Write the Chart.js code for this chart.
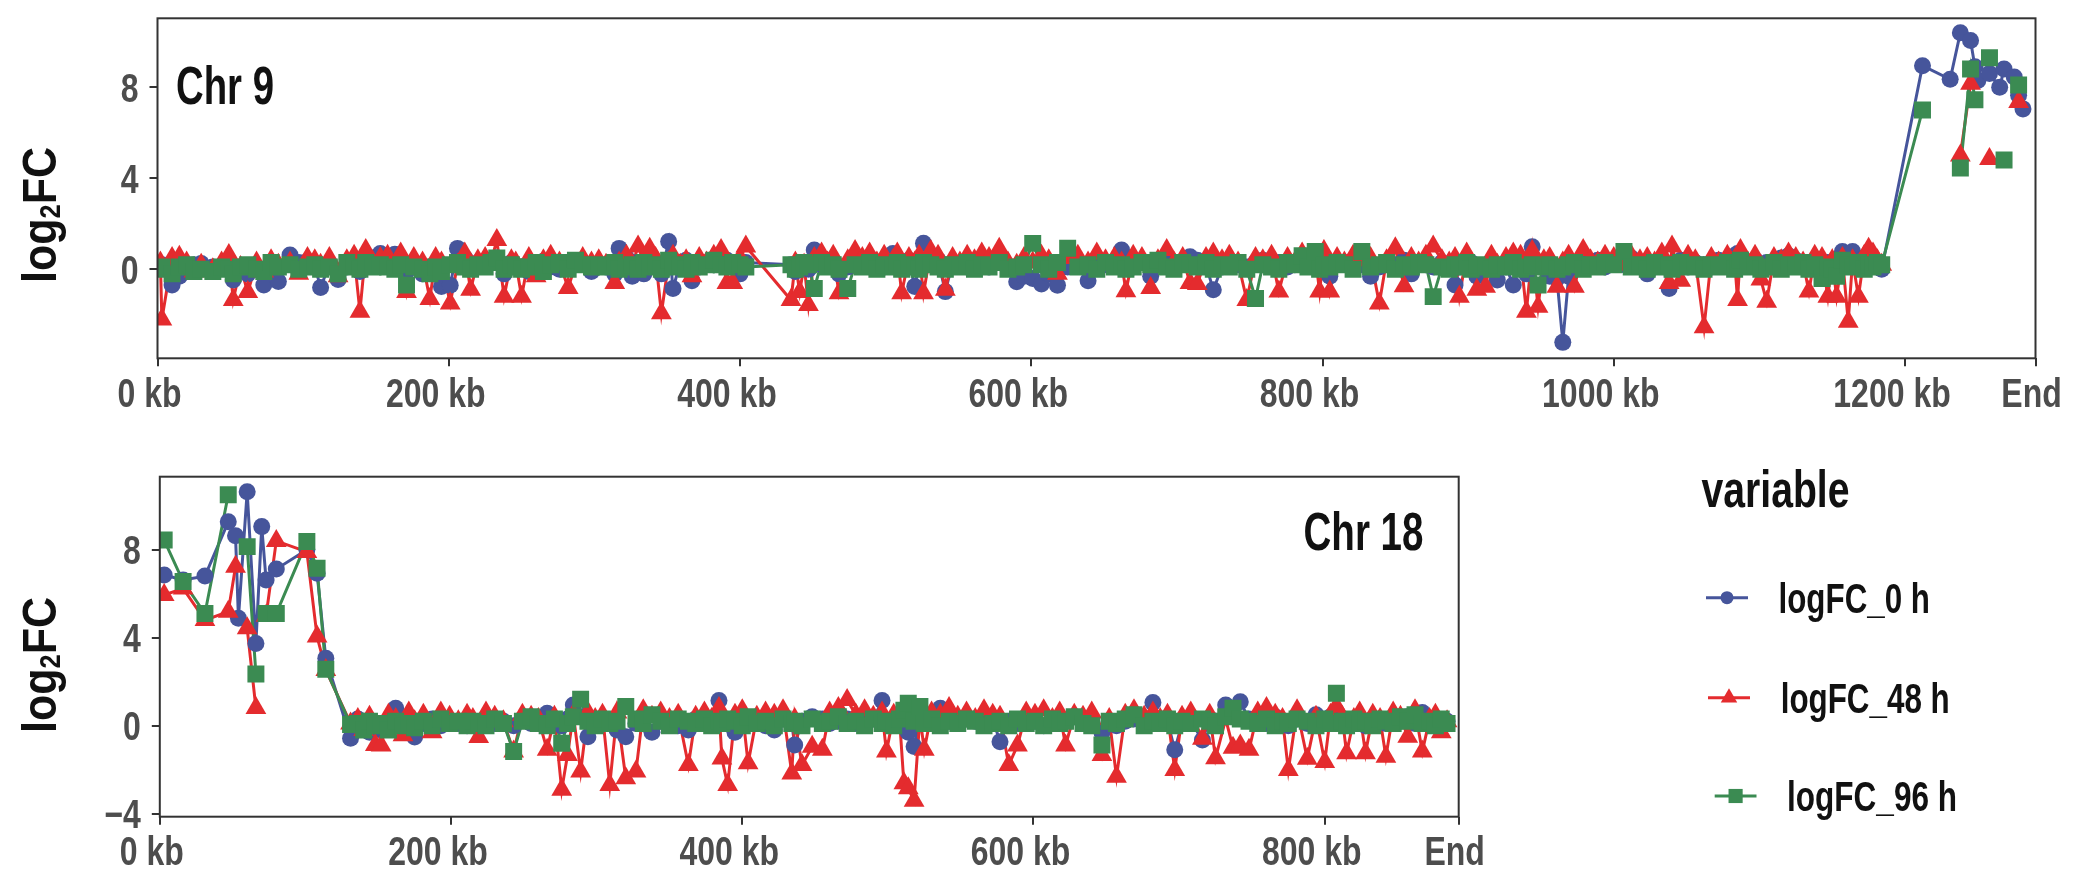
<!DOCTYPE html>
<html>
<head>
<meta charset="utf-8">
<script src="https://cdn.jsdelivr.net/npm/chart.js@4.4.1/dist/chart.umd.min.js"></script>
<style>
  html, body { margin: 0; padding: 0; background: #fff; }
  body { width: 2090px; height: 871px; position: relative; overflow: hidden; }
  canvas { position: absolute; left: 0; }
  #chr9 { top: 0; }
  #chr18 { top: 440px; }
</style>
</head>
<body>
<canvas id="chr9" width="2090" height="420"></canvas>
<canvas id="chr18" width="2090" height="431"></canvas>
<script>
// ---- data: Chr 9 (positions in kb, log2 fold change) ----
const chr9Kb = [
  2, 3, 10, 15, 20, 25, 30, 38, 44, 49,
  52, 57, 62, 68, 73, 78, 83, 91, 97, 103,
  108, 112, 118, 124, 130, 135, 139, 143, 148, 153,
  158, 163, 167, 171, 176, 182, 187, 191, 195, 201,
  206, 211, 215, 220, 225, 229, 233, 238, 243, 246,
  250, 255, 260, 265, 270, 276, 282, 287, 292, 298,
  303, 308, 314, 317, 322, 326, 330, 334, 338, 342,
  346, 351, 354, 359, 363, 367, 372, 377, 382, 387,
  391, 395, 400, 404, 435, 438, 441, 444, 447, 451,
  456, 460, 464, 468, 474, 479, 484, 489, 494, 499,
  505, 508, 511, 516, 520, 523, 526, 531, 536, 541,
  546, 551, 556, 561, 566, 571, 578, 584, 590, 595,
  601, 607, 612, 618, 625, 632, 639, 645, 651, 657,
  662, 665, 670, 676, 682, 687, 693, 698, 704, 709,
  714, 720, 725, 731, 736, 742, 748, 754, 759, 765,
  770, 776, 781, 786, 790, 795, 798, 801, 805, 810,
  815, 821, 827, 833, 839, 844, 850, 856, 861, 866,
  871, 876, 882, 887, 891, 894, 899, 902, 906, 912,
  916, 920, 926, 931, 936, 940, 944, 948, 952, 956,
  961, 965, 969, 973, 979, 984, 989, 994, 1000, 1007,
  1012, 1018, 1023, 1028, 1033, 1038, 1040, 1046, 1051, 1056,
  1062, 1067, 1072, 1078, 1083, 1085, 1087, 1092, 1097, 1101,
  1105, 1110, 1115, 1120, 1125, 1130, 1134, 1138, 1143, 1147,
  1150, 1153, 1157, 1161, 1164, 1168, 1172, 1175, 1178, 1181,
  1184, 1212, 1231, 1238, 1245, 1248, 1250, 1258, 1265, 1268,
  1275, 1278, 1281
];
const chr9Logfc0h = [
  0.1, 0.2, -0.69, -0.3, 0.05, 0.2, 0.26, 0.1, 0.15, 0.3,
  -0.47, 0.1, -0.2, 0.05, -0.69, 0.2, -0.54, 0.63, 0.3, 0.35,
  0.15, -0.8, 0.2, -0.45, 0.1, 0.25, -0.1, 0.3, 0.5, 0.7,
  0.2, 0.66, 0.1, -0.1, 0.3, -0.2, 0.1, 0.05, -0.76, -0.7,
  0.92, 0.5, 0.1, 0.3, 0.2, 0.4, 0.5, -0.2, 0.3, 0.1,
  0.1, -0.1, 0.2, 0.35, 0.1, 0.0, 0.15, 0.2, 0.3, -0.1,
  0.2, 0.1, -0.2, 0.92, 0.5, -0.3, 0.3, -0.2, 0.2, 0.1,
  -0.2, 1.22, -0.84, 0.3, 0.4, -0.5, 0.1, 0.3, 0.2, 0.35,
  0.4, 0.2, -0.2, 0.3, 0.2, -0.1, 0.3, 0.1, 0.0, 0.85,
  0.2, 0.4, 0.3, -0.2, 0.1, 0.3, 0.2, 0.5, 0.3, 0.1,
  0.7, 0.2, 0.1, 0.4, -0.76, 0.2, 1.14, 0.3, 0.4, -0.98,
  0.3, 0.2, 0.1, 0.3, 0.2, 0.1, 0.3, 0.15, -0.55, -0.3,
  -0.4, -0.65, -0.2, -0.7, 0.1, 0.2, -0.5, 0.1, 0.2, 0.3,
  0.85, 0.2, 0.1, 0.3, -0.3, 0.2, 0.3, 0.1, 0.3, 0.55,
  0.4, 0.2, -0.9, 0.1, 0.3, 0.2, 0.1, 0.3, 0.4, 0.2,
  0.3, 0.1, 0.2, 0.5, 0.2, 0.1, 0.3, 0.0, -0.3, 0.2,
  0.3, 0.4, 0.2, -0.3, 0.1, 0.3, 0.2, 0.4, -0.2, 0.3,
  0.2, 0.1, 0.3, 0.2, -0.69, 0.1, 0.2, 0.3, -0.3, 0.1,
  0.2, -0.47, 0.1, -0.69, 0.2, -0.2, 0.99, 0.3, 0.2, -0.3,
  -0.4, -3.21, -0.3, 0.1, 0.3, 0.2, 0.4, 0.1, 0.3, 0.2,
  0.5, 0.2, -0.2, 0.1, 0.3, -0.84, 0.2, 0.4, 0.1, 0.3,
  0.2, 0.1, 0.4, 0.2, 0.6, 0.7, 0.3, 0.2, 0.4, 0.1,
  0.3, 0.2, 0.5, 0.6, 0.4, 0.1, 0.3, 0.2, -0.2, 0.3,
  0.1, 0.2, 0.78, 0.3, 0.78, 0.4, 0.5, 0.2, 0.3, 0.1,
  0.0, 8.95, 8.35, 10.4, 10.05, 8.9, 8.3, 8.6, 8.0, 8.8,
  8.45, 7.65, 7.05
];
const chr9Logfc48h = [
  0.3, -2.2, 0.5, 0.55, 0.3, -0.1, 0.2, 0.0, 0.3, 0.63,
  -1.35, 0.1, -1.0, 0.3, -0.1, 0.4, 0.2, 0.3, -0.2, 0.5,
  0.4, 0.2, 0.5, -0.3, 0.4, 0.6, -1.86, 0.85, 0.3, 0.5,
  0.6, 0.2, 0.7, -1.0, 0.5, 0.3, -1.3, 0.5, 0.3, -1.5,
  0.2, 0.7, -0.9, 0.4, 0.5, 0.3, 1.29, -1.2, 0.4, 0.3,
  -1.2, 0.5, -0.3, 0.4, 0.6, 0.3, -0.82, 0.2, 0.5, 0.3,
  0.4, 0.2, -0.6, 0.3, 0.6, 0.2, 1.0, 0.3, 0.9, 0.5,
  -1.93, 0.3, 0.6, 0.2, 0.4, -0.3, 0.5, 0.3, 0.6, 0.85,
  -0.6, -0.6, 0.5, 1.0, -1.35, 0.3, -1.0, 0.2, -1.57, 0.5,
  0.7, 0.3, 0.6, -1.05, 0.4, 0.8, 0.5, 0.7, 0.3, 0.6,
  0.4, 0.7, -1.05, 0.5, 0.3, 0.6, -1.05, 0.8, 0.6, -0.9,
  0.5, 0.3, 0.6, 0.4, 0.7, 0.5, 0.9, 0.3, 0.2, 0.5,
  0.3, 0.6, 0.4, -0.2, 0.5, 0.6, 0.3, 0.7, 0.4, 0.5,
  0.3, -0.96, 0.6, 0.5, -0.82, 0.4, 0.85, 0.3, 0.5, -0.6,
  -0.65, 0.5, 0.7, 0.4, 0.6, 0.3, -1.35, 0.5, 0.4, 0.6,
  -0.98, 0.5, 0.3, 0.7, 0.4, 0.6, -0.98, 0.8, -0.98, 0.5,
  0.3, 0.6, 0.4, 0.5, -1.5, 0.4, 0.93, -0.74, 0.5, 0.3,
  0.6, 1.0, 0.4, 0.3, 0.5, -1.2, 0.7, 0.3, -0.9, -0.77,
  0.6, 0.2, 0.5, 0.7, 0.6, -1.86, 0.8, -1.64, 0.4, 0.5,
  -0.77, 0.3, 0.6, -0.77, 0.85, 0.4, 0.3, 0.6, 0.5, 0.2,
  0.6, 0.4, 0.5, 0.3, 0.7, -0.6, 1.0, -0.5, 0.6, 0.4,
  -2.55, 0.5, 0.3, 0.6, 0.4, -1.35, 0.85, 0.3, 0.6, -0.45,
  -1.42, 0.5, 0.4, 0.7, 0.5, 0.3, -0.98, 0.6, 0.5, -1.2,
  0.4, -1.2, 0.5, -2.3, 0.4, -1.2, 0.6, 0.9, 0.7, 0.4,
  0.2, null, null, 5.0, 8.15, null, null, 4.85, null, null,
  null, 7.35, null
];
const chr9Logfc96h = [
  0.0, 0.1, -0.2, 0.1, 0.2, -0.1, 0.0, -0.1, 0.1, 0.0,
  -0.2, 0.1, 0.2, 0.0, -0.1, 0.3, 0.1, 0.2, 0.0, 0.1,
  0.2, 0.0, 0.1, -0.2, 0.3, 0.1, 0.0, 0.3, 0.1, 0.2,
  0.1, 0.0, 0.2, -0.69, 0.1, 0.0, -0.2, 0.1, -0.1, 0.2,
  0.3, 0.1, 0.0, 0.2, 0.1, 0.3, 0.5, 0.0, 0.2, 0.1,
  0.0, 0.1, 0.3, -0.1, 0.2, 0.3, 0.0, 0.4, 0.2, 0.1,
  0.2, 0.1, 0.3, 0.0, 0.1, 0.2, 0.0, 0.3, 0.1, 0.2,
  0.0, 0.4, 0.1, 0.2, 0.0, 0.3, 0.1, 0.2, 0.4, 0.2,
  0.1, 0.3, 0.2, 0.1, 0.2, 0.0, 0.1, 0.3, 0.2, -0.84,
  0.3, 0.1, 0.2, 0.0, -0.84, 0.2, 0.1, 0.3, 0.0, 0.2,
  0.1, 0.3, 0.0, 0.2, 0.1, 0.0, 0.3, 0.2, 0.1, 0.0,
  0.2, 0.1, 0.3, 0.0, 0.2, 0.1, 0.3, 0.0, 0.1, 0.2,
  1.14, 0.2, 0.0, 0.3, 0.93, 0.1, 0.2, 0.0, 0.3, 0.1,
  0.2, 0.0, 0.1, 0.3, 0.2, 0.4, 0.1, 0.0, 0.3, 0.2,
  0.1, 0.3, 0.0, 0.2, 0.1, 0.3, 0.0, -1.28, 0.2, 0.1,
  0.0, 0.3, 0.2, 0.6, 0.1, 0.78, 0.0, 0.2, 0.1, 0.3,
  0.2, 0.0, 0.78, 0.1, 0.2, 0.3, 0.0, 0.2, 0.1, 0.3,
  0.2, -1.2, 0.1, 0.0, 0.2, 0.1, 0.3, 0.0, 0.2, 0.1,
  0.0, 0.2, 0.1, 0.3, 0.0, 0.1, 0.2, -0.69, 0.1, 0.2,
  0.0, 0.1, 0.2, 0.3, 0.0, 0.2, 0.1, 0.3, 0.2, 0.78,
  0.1, 0.2, 0.0, 0.3, 0.1, 0.2, 0.0, 0.3, 0.1, 0.2,
  0.0, 0.2, 0.1, 0.3, 0.0, 0.2, 0.4, 0.1, 0.2, 0.0,
  0.1, 0.3, 0.0, 0.2, 0.1, 0.3, 0.0, 0.2, -0.4, 0.1,
  0.0, -0.3, 0.4, 0.2, 0.1, 0.3, 0.0, 0.2, 0.1, 0.3,
  0.2, 7.0, null, 4.45, 8.8, 7.45, null, 9.3, null, 4.8,
  null, 8.1, null
];

// ---- data: Chr 18 ----
const chr18Kb = [
  3, 16, 31, 47, 52, 54, 60, 66, 70, 73,
  80, 101, 108, 114, 131, 136, 140, 144, 148, 152,
  157, 162, 167, 171, 175, 181, 187, 193, 199, 205,
  211, 215, 219, 224, 230, 236, 243, 249, 255, 260,
  266, 271, 276, 280, 284, 289, 294, 299, 304, 309,
  314, 320, 327, 332, 338, 344, 350, 356, 363, 368,
  374, 379, 384, 386, 390, 395, 400, 404, 410, 416,
  422, 428, 434, 436, 441, 448, 455, 460, 466, 472,
  478, 484, 490, 496, 499, 504, 508, 511, 514, 518,
  522, 525, 530, 536, 542, 548, 554, 560, 566, 572,
  577, 583, 589, 595, 601, 607, 613, 618, 622, 628,
  634, 640, 647, 652, 657, 663, 669, 676, 682, 687,
  692, 697, 702, 708, 716, 721, 725, 732, 737, 742,
  748, 754, 760, 766, 771, 775, 781, 788, 794, 800,
  804, 808, 812, 815, 820, 824, 828, 833, 838, 842,
  847, 852, 857, 862, 867, 872, 876, 880, 884
];
const chr18Logfc0h = [
  6.85, 6.62, 6.8, 9.27, 8.64, 4.88, 10.64, 3.74, 9.05, 6.62,
  7.12, 8.0, 6.93, 3.06, -0.57, 0.3, 0.2, -0.3, 0.1, -0.2,
  0.2, 0.79, 0.1, -0.2, -0.52, 0.1, 0.3, 0.0, 0.2, 0.1,
  0.0, 0.2, -0.1, 0.3, 0.1, 0.2, 0.0, 0.3, 0.1, 0.2,
  0.56, 0.2, 0.0, 0.3, 0.94, 0.4, -0.5, 0.1, 0.3, 0.2,
  -0.2, -0.5, 0.1, 0.3, -0.3, 0.2, 0.1, 0.0, -0.2, 0.3,
  0.1, 0.2, 1.14, 0.3, 0.2, -0.3, 0.4, 0.1, 0.2, 0.0,
  -0.2, 0.3, 0.1, -0.88, 0.2, 0.4, 0.3, 0.1, 0.2, 0.3,
  0.1, 0.2, 0.3, 1.14, 0.2, 0.3, 0.1, 0.0, -0.3, -0.95,
  0.3, 0.2, 0.4, 0.79, 0.2, 0.1, 0.3, 0.2, 0.1, 0.3,
  -0.73, 0.2, 0.1, 0.3, 0.2, 0.0, 0.3, 0.1, 0.2, 0.4,
  0.1, 0.2, -0.3, 0.1, 0.0, 0.2, 0.3, 0.1, 1.05, 0.3,
  0.2, -1.1, 0.1, 0.2, -0.65, 0.3, 0.2, 0.94, 0.6, 1.09,
  0.3, 0.2, 0.1, 0.4, 0.2, 0.0, 0.3, 0.1, 0.5, 0.2,
  0.4, 0.6, 0.2, 0.1, 0.3, 0.2, 0.0, 0.3, 0.2, 0.1,
  0.3, 0.2, 0.4, 0.1, 0.6, 0.3, 0.2, 0.1, 0.2
];
const chr18Logfc48h = [
  5.94, 6.24, 4.8, 5.18, 7.23, null, 4.43, 0.8, null, 5.0,
  8.4, 7.9, 4.05, 2.53, 0.1, 0.3, -0.2, 0.4, -0.88, -0.9,
  0.5, 0.3, -0.44, 0.6, 0.2, 0.5, -0.3, 0.6, 0.4, 0.2,
  0.5, 0.3, -0.52, 0.6, 0.4, 0.2, -1.18, 0.5, 0.4, 0.3,
  -1.1, 0.4, -2.92, -1.33, 0.5, -2.09, 0.6, 0.3, 0.5, -2.7,
  0.6, -2.39, -2.09, 0.7, 0.4, 0.6, 0.3, 0.5, -1.79, 0.4,
  0.6, 0.3, 0.8, -1.49, -2.7, 0.5, 0.7, -1.71, 0.4, 0.6,
  0.5, 0.7, -2.17, 0.3, -1.79, -0.96, -1.1, 0.6, 0.8, 1.17,
  0.5, 0.7, 0.4, 0.6, -1.18, 0.5, 0.3, -2.62, -2.85, -3.41,
  0.4, -1.1, 0.6, 0.5, 0.8, 0.4, 0.6, 0.3, 0.7, 0.5,
  0.4, -1.79, -0.9, 0.6, 0.5, 0.7, 0.3, 0.6, -0.9, 0.5,
  0.4, 0.6, -1.33, 0.3, -2.32, 0.5, 0.7, 0.4, 0.6, 0.3,
  0.5, -2.02, 0.4, 0.6, -0.6, 0.5, -1.48, 0.3, -1.0, -0.9,
  -1.1, 0.6, 0.8, 0.5, 0.3, -2.02, 0.7, -1.5, 0.4, -1.65,
  0.5, 0.87, 0.4, -1.26, 0.3, 0.6, -1.26, 0.5, 0.3, -1.41,
  0.6, 0.4, -0.5, 0.7, -1.18, 0.3, 0.5, -0.3, 0.2
];
const chr18Logfc96h = [
  8.44, 6.55, 5.1, 10.5, null, null, 8.14, 2.35, null, 5.1,
  5.1, 8.37, 7.16, 2.56, 0.05, 0.1, -0.2, 0.2, 0.0, 0.1,
  -0.2, 0.2, 0.0, 0.1, -0.1, 0.2, 0.0, 0.3, 0.1, 0.2,
  0.0, 0.2, 0.1, 0.0, 0.3, 0.1, -1.18, 0.2, 0.4, 0.1,
  0.0, 0.3, -0.8, 0.1, 0.4, 1.2, 0.2, 0.0, 0.3, 0.1,
  0.2, 0.87, 0.3, 0.1, 0.5, 0.2, 0.0, 0.3, 0.2, 0.1,
  0.3, 0.0, 0.2, 0.1, 0.3, 0.2, 0.0, 0.4, 0.1, 0.2,
  0.0, 0.3, 0.1, 0.2, 0.0, 0.3, 0.1, 0.2, 0.4, 0.1,
  0.2, 0.0, 0.3, 0.1, 0.2, 0.0, 0.3, 0.7, 1.02, 0.2,
  0.87, 0.1, 0.3, 0.0, 0.2, 0.1, 0.3, 0.2, 0.0, 0.1,
  0.2, 0.0, 0.3, 0.1, 0.2, 0.0, 0.3, 0.1, 0.2, 0.4,
  0.1, 0.0, -0.88, 0.2, 0.1, 0.3, 0.5, 0.0, 0.2, 0.1,
  0.3, 0.0, 0.2, 0.1, 0.3, 0.2, 0.0, 0.4, 0.79, 0.3,
  0.2, 0.1, 0.3, 0.0, 0.2, 0.1, 0.3, 0.2, 0.0, 0.3,
  0.1, 1.47, 0.2, 0.0, 0.3, 0.1, 0.2, 0.0, 0.3, 0.2,
  0.1, 0.4, 0.2, 0.5, 0.1, 0.2, 0.0, 0.3, 0.1
];

// axis ticks
const chr9EndKb = 1289.6;
const chr18EndKb = 892;
const chr9KbTicks = [0, 200, 400, 600, 800, 1000, 1200];
const chr18KbTicks = [0, 200, 400, 600, 800];
const chr9YTicks = [0, 4, 8];
const chr18YTicks = [-4, 0, 4, 8];
const seriesNames = ["logFC_0 h", "logFC_48 h", "logFC_96 h"];

// styles
const FONT = "'Liberation Sans', Arial, sans-serif";
const COLORS = ["#46559B", "#E42B2E", "#3B8B52"];
const POINT_STYLES = ["circle", "triangle", "rect"];
const POINT_RADII = [8.5, 12, 12];
const CONDENSE = 0.8;   // the figure uses a condensed face

function buildDatasets(kb, series) {
  var sets = [];
  series.forEach(function (vals, i) {
    var pts = kb.map(function (x, j) { return { x: x, y: vals[j] }; });
    // lines under all points, like geom_line + geom_point
    sets.push({
      data: pts, showLine: true, spanGaps: false,
      borderColor: COLORS[i], borderWidth: 3, pointRadius: 0,
      order: 12 - i
    });
    sets.push({
      label: seriesNames[i], data: pts, showLine: false,
      pointStyle: POINT_STYLES[i], pointRadius: POINT_RADII[i],
      pointBackgroundColor: COLORS[i], pointBorderWidth: 0,
      order: 3 - i
    });
  });
  return sets;
}

// text squeezed horizontally: to a target width, or by a fixed factor
function drawText(ctx, text, x, y, size, width, align, color, factor) {
  ctx.save();
  ctx.font = "bold " + size + "px " + FONT;
  var w = ctx.measureText(text).width;
  ctx.translate(x, y);
  ctx.scale(width ? width / w : (factor || 1), 1);
  ctx.fillStyle = color || "#111";
  ctx.textAlign = align || "left";
  ctx.textBaseline = "alphabetic";
  ctx.fillText(text, 0, 0);
  ctx.restore();
}

// rotated "log2FC" with a small subscript
function drawYTitle(ctx, baseX, startY) {
  var big = 49, small = 29, target = 136;
  ctx.save();
  ctx.font = "bold " + big + "px " + FONT;
  var w1 = ctx.measureText("log").width, w3 = ctx.measureText("FC").width;
  ctx.font = "bold " + small + "px " + FONT;
  var w2 = ctx.measureText("2").width;
  var sx = target / (w1 + w2 + w3);
  ctx.translate(baseX, startY);
  ctx.rotate(-Math.PI / 2);
  ctx.scale(sx, 1);
  ctx.fillStyle = "#111";
  ctx.textBaseline = "alphabetic";
  ctx.font = "bold " + big + "px " + FONT;
  ctx.fillText("log", 0, 0);
  ctx.font = "bold " + small + "px " + FONT;
  ctx.fillText("2", w1, 4);
  ctx.font = "bold " + big + "px " + FONT;
  ctx.fillText("FC", w1 + w2, 0);
  ctx.restore();
}

// tick labels placed from the chart's own scales
function drawTickLabels(chart, p) {
  var ctx = chart.ctx, a = chart.chartArea;
  var xs = chart.scales.x, ys = chart.scales.y;
  p.xTicks.concat([p.endKb]).forEach(function (v) {
    var isEnd = v === p.endKb;
    var shift = isEnd ? -4 : (v === 0 ? -8 : -13);
    drawText(ctx, isEnd ? "End" : v + " kb", xs.getPixelForValue(v) + shift,
      a.bottom + 48.5, 40, 0, "center", "#4D4D4D", CONDENSE);
  });
  p.yTicks.forEach(function (v) {
    var label = v < 0 ? "\u2212" + Math.abs(v) : String(v);
    drawText(ctx, label, a.left - 19, ys.getPixelForValue(v) + 14.3,
      40, 0, "right", "#4D4D4D", CONDENSE);
  });
}

function drawMarker(ctx, style, x, y, r, color) {
  ctx.fillStyle = color;
  ctx.beginPath();
  if (style === "circle") {
    ctx.arc(x, y, r, 0, Math.PI * 2);
  } else if (style === "triangle") {
    ctx.moveTo(x, y - r);
    ctx.lineTo(x + r * Math.sin(Math.PI * 2 / 3), y + r * 0.5);
    ctx.lineTo(x - r * Math.sin(Math.PI * 2 / 3), y + r * 0.5);
    ctx.closePath();
  } else {
    var s = r * Math.SQRT1_2;
    ctx.rect(x - s, y - s, 2 * s, 2 * s);
  }
  ctx.fill();
}

function makeOptions(p) {
  return {
    responsive: false,
    animation: false,
    events: [],
    layout: { padding: { top: p.padTop, right: p.padRight, left: 0, bottom: 0 } },
    plugins: { legend: { display: false }, tooltip: { enabled: false } },
    scales: {
      x: {
        type: "linear", min: 0, max: p.endKb,
        afterBuildTicks: function (s) {
          s.ticks = p.xTicks.concat([p.endKb]).map(function (v) { return { value: v }; });
        },
        afterFit: function (s) { s.height = p.xAxisHeight; },
        border: { display: false },
        grid: { drawOnChartArea: false, drawTicks: true, tickLength: 8, color: "#333", lineWidth: 2 },
        ticks: { display: false, autoSkip: false }
      },
      y: {
        min: p.yMin, max: p.yMax,
        afterBuildTicks: function (s) {
          s.ticks = p.yTicks.map(function (v) { return { value: v }; });
        },
        afterFit: function (s) { s.width = p.yAxisWidth; },
        border: { display: false },
        grid: { drawOnChartArea: false, drawTicks: true, tickLength: 8, color: "#333", lineWidth: 2 },
        ticks: { display: false }
      }
    }
  };
}

var framePlugin = {
  id: "frame",
  afterDatasetsDraw: function (chart) {
    var a = chart.chartArea, ctx = chart.ctx;
    ctx.save();
    ctx.strokeStyle = "#333";
    ctx.lineWidth = 2;
    ctx.strokeRect(a.left, a.top, a.right - a.left, a.bottom - a.top);
    ctx.restore();
  }
};

// Chr 9 panel
var p9 = {
  endKb: chr9EndKb, xTicks: chr9KbTicks, yTicks: chr9YTicks,
  yMin: -3.91, yMax: 11.03, padTop: 18.3, padRight: 54.5,
  yAxisWidth: 157.5, xAxisHeight: 61.7
};
new Chart(document.getElementById("chr9"), {
  type: "scatter",
  data: { datasets: buildDatasets(chr9Kb, [chr9Logfc0h, chr9Logfc48h, chr9Logfc96h]) },
  options: makeOptions(p9),
  plugins: [framePlugin, {
    id: "labels9",
    afterDraw: function (chart) {
      var ctx = chart.ctx;
      drawTickLabels(chart, p9);
      drawText(ctx, "Chr 9", 176, 104, 54, 98, "left", "#111");
      drawYTitle(ctx, 56, 283);
    }
  }]
});

// Chr 18 panel + legend
var p18 = {
  endKb: chr18EndKb, xTicks: chr18KbTicks, yTicks: chr18YTicks,
  yMin: -4.14, yMax: 11.32, padTop: 36.7, padRight: 631.3,
  yAxisWidth: 159.8, xAxisHeight: 54.3
};
new Chart(document.getElementById("chr18"), {
  type: "scatter",
  data: { datasets: buildDatasets(chr18Kb, [chr18Logfc0h, chr18Logfc48h, chr18Logfc96h]) },
  options: makeOptions(p18),
  plugins: [framePlugin, {
    id: "labels18",
    afterDraw: function (chart) {
      var ctx = chart.ctx;
      drawTickLabels(chart, p18);
      drawText(ctx, "Chr 18", 1423.5, 110, 54, 120, "right", "#111");
      drawYTitle(ctx, 56, 293);

      // legend
      drawText(ctx, "variable", 1701.5, 66.7, 52, 148, "left", "#111");
      var items = [
        { x0: 1706, x1: 1748, y: 157.7, tx: 1778.5, ty: 173.3, tw: 151.5 },
        { x0: 1708, x1: 1750, y: 257.7, tx: 1780.7, ty: 273.3, tw: 169 },
        { x0: 1714.7, x1: 1756.5, y: 356, tx: 1787, ty: 370.7, tw: 170 }
      ];
      var legendR = [6.5, 9.5, 10];
      items.forEach(function (it, i) {
        ctx.save();
        ctx.strokeStyle = COLORS[i];
        ctx.lineWidth = 3;
        ctx.beginPath();
        ctx.moveTo(it.x0, it.y);
        ctx.lineTo(it.x1, it.y);
        ctx.stroke();
        drawMarker(ctx, POINT_STYLES[i], (it.x0 + it.x1) / 2, it.y, legendR[i], COLORS[i]);
        ctx.restore();
        drawText(ctx, seriesNames[i], it.tx, it.ty, 43, it.tw, "left", "#111");
      });
    }
  }]
});
</script>
</body>
</html>
